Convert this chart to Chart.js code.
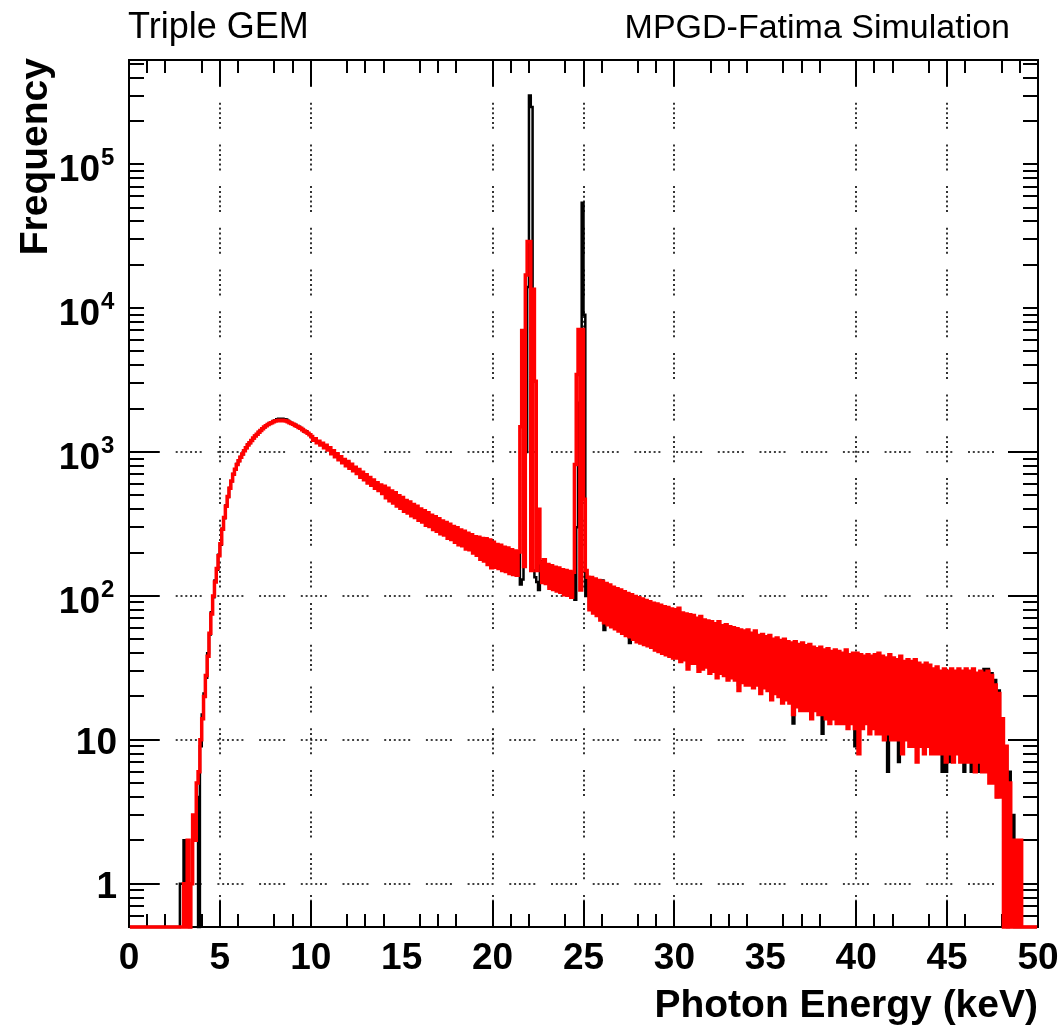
<!DOCTYPE html>
<html>
<head>
<meta charset="utf-8">
<script src="https://cdn.jsdelivr.net/npm/chart.js@4.4.1/dist/chart.umd.min.js"></script>
<style>
  html, body { margin: 0; padding: 0; background: #fff; }
  canvas { display: block; }
</style>
</head>
<body>
<canvas id="chart" width="1059" height="1027"></canvas>
<script>
// counts per 0.1 keV bin, one row per keV (0-1, 1-2, ...)
const binWidth = 0.1;

const redCounts = [
  0, 0, 0, 0, 0, 0, 0, 0, 0, 0,
  0, 0, 0, 0, 0, 0, 0, 0, 0, 0,
  0, 0, 0, 0, 0, 0, 0, 0, 0, 0,
  1, 0, 2, 0, 1, 3, 2, 5, 6, 10,
  14, 20, 28, 38, 55, 75, 100, 125, 155, 190,
  230, 290, 350, 420, 490, 560, 630, 700, 760, 820,
  870, 920, 970, 1020, 1070, 1120, 1160, 1200, 1250, 1290,
  1330, 1370, 1410, 1450, 1490, 1520, 1550, 1580, 1600, 1620,
  1640, 1650, 1660, 1650, 1660, 1650, 1640, 1620, 1600, 1580,
  1560, 1530, 1510, 1480, 1460, 1430, 1400, 1380, 1350, 1320,
  1280, 1205, 1236, 1160, 1188, 1118, 1152, 1070, 1112, 1032,
  1070, 972, 1020, 927, 974, 884, 928, 843, 886, 804,
  858, 772, 822, 742, 784, 708, 756, 668, 724, 642,
  695, 610, 664, 588, 640, 560, 612, 540, 590, 515,
  579, 481, 561, 458, 536, 443, 520, 421, 496, 407,
  482, 388, 461, 377, 450, 360, 431, 351, 419, 335,
  402, 326, 391, 310, 379, 304, 364, 289, 355, 281,
  344, 270, 332, 265, 324, 252, 315, 247, 304, 236,
  298, 227, 287, 223, 281, 212, 272, 209, 266, 199,
  258, 192, 256, 180, 251, 175, 250, 165, 245, 157,
  236, 158, 228, 155, 225, 150, 218, 148, 215, 143,
  209, 141, 205, 139, 202, 1500, 7000, 160, 17000, 29000,
  29000, 150, 13500, 3100, 150, 400, 170, 124, 178, 122,
  165, 113, 162, 111, 158, 108, 156, 106, 152, 102,
  150, 101, 148, 98, 146, 820, 3450, 7100, 110, 7100,
  470, 150, 135, 80, 134, 76, 131, 73, 128, 68,
  126, 65, 122, 63, 119, 61, 115, 59, 112, 57,
  110, 55, 107, 53, 104, 52, 102, 50, 99, 48,
  97, 47, 95, 46, 93, 45, 91, 44, 89, 42,
  88, 41, 86, 40, 84, 39, 83, 38, 81, 37,
  80, 37, 82, 35, 76, 36, 75, 31, 74, 34,
  73, 34, 70, 30, 72, 31, 68, 32, 67, 29,
  66, 30, 64, 27, 66, 29, 62, 28, 63, 26,
  61, 27, 60, 26, 59, 22, 58, 25, 57, 24,
  58, 24, 55, 23, 57, 24, 53, 21, 54, 23,
  52, 22, 53, 19, 50, 21, 51, 20, 49, 18,
  50, 19, 48, 18, 47, 15, 48, 17, 46, 16,
  47, 16, 45, 16, 46, 14, 44, 16, 43, 15,
  44, 15, 42, 14, 43, 13, 41, 14, 42, 13,
  41, 13, 40, 13, 42, 12, 39, 13, 40, 12,
  40, 8, 39, 12, 38, 13, 39, 11, 38, 12,
  39, 11, 40, 11, 38, 10, 37, 11, 39, 10,
  37, 10, 36, 10, 38, 8, 35, 10, 36, 9,
  35, 9, 36, 7, 34, 9, 33, 8, 34, 9,
  33, 8, 31, 8, 32, 8, 30, 8, 31, 7,
  30, 8, 31, 7, 30, 8, 31, 7, 30, 7,
  31, 7, 30, 7, 31, 6, 29, 7, 30, 6,
  29, 6, 30, 5, 28, 5, 24, 4, 21, 4,
  14, 0, 9, 0, 5, 0, 2, 0, 2, 0,
  2, 0, 0, 0, 0, 0, 0, 0, 0, 0
];

const blackCounts = [
  0, 0, 0, 0, 0, 0, 0, 0, 0, 0,
  0, 0, 0, 0, 0, 0, 0, 0, 0, 0,
  0, 0, 0, 0, 0, 0, 0, 0, 1, 1,
  2, 1, 1, 0, 1, 2, 2, 4, 0, 9,
  15, 21, 27, 40, 54, 77, 98, 128, 152, 193,
  227, 293, 347, 424, 487, 563, 627, 704, 757, 824,
  866, 925, 966, 1026, 1066, 1126, 1156, 1206, 1246, 1296,
  1326, 1376, 1406, 1456, 1486, 1526, 1546, 1590, 1610, 1645,
  1665, 1690, 1700, 1690, 1705, 1690, 1680, 1650, 1615, 1590,
  1550, 1545, 1500, 1495, 1450, 1445, 1390, 1395, 1340, 1330,
  1270, 1215, 1225, 1170, 1180, 1125, 1140, 1080, 1100, 1040,
  1060, 980, 1010, 935, 965, 890, 918, 850, 876, 810,
  848, 780, 812, 748, 776, 712, 746, 676, 714, 645,
  686, 615, 655, 592, 630, 565, 604, 544, 580, 520,
  554, 500, 536, 476, 512, 460, 496, 438, 474, 424,
  460, 404, 440, 392, 428, 375, 410, 365, 398, 350,
  382, 340, 372, 325, 360, 316, 346, 302, 338, 293,
  326, 282, 315, 276, 308, 264, 300, 258, 288, 247,
  282, 238, 272, 233, 266, 222, 258, 218, 250, 209,
  244, 201, 240, 190, 238, 183, 236, 173, 232, 165,
  232, 160, 226, 158, 221, 153, 215, 150, 211, 146,
  205, 144, 201, 142, 198, 120, 130, 1400, 1000, 14000,
  300000, 250000, 150, 135, 125, 110, 174, 126, 172, 124,
  161, 115, 158, 113, 155, 110, 152, 108, 149, 104,
  147, 103, 145, 100, 143, 94, 300, 2200, 2000, 54000,
  9000, 100, 132, 82, 131, 78, 128, 75, 125, 70,
  128, 58, 120, 65, 117, 63, 113, 61, 110, 59,
  108, 57, 105, 55, 102, 47, 100, 52, 97, 50,
  95, 49, 93, 48, 91, 47, 89, 46, 87, 44,
  86, 43, 84, 42, 82, 41, 81, 40, 79, 39,
  78, 39, 80, 37, 75, 38, 73, 33, 72, 36,
  71, 36, 69, 32, 70, 33, 67, 34, 66, 31,
  65, 32, 63, 29, 64, 31, 61, 30, 62, 28,
  60, 29, 59, 28, 58, 24, 57, 27, 56, 26,
  56, 26, 54, 25, 55, 26, 52, 23, 53, 25,
  51, 24, 52, 21, 49, 23, 50, 22, 48, 20,
  49, 21, 47, 20, 46, 13, 47, 19, 45, 18,
  46, 18, 44, 18, 45, 16, 43, 18, 42, 17,
  43, 11, 41, 16, 42, 15, 40, 16, 41, 15,
  40, 15, 39, 15, 41, 14, 38, 14, 39, 9,
  39, 10, 38, 14, 37, 15, 38, 13, 37, 14,
  38, 13, 39, 13, 37, 12, 36, 6, 38, 12,
  36, 12, 35, 7, 37, 10, 34, 12, 35, 11,
  34, 11, 35, 9, 33, 11, 32, 10, 33, 11,
  32, 10, 30, 10, 31, 10, 29, 6, 30, 6,
  29, 7, 30, 9, 29, 10, 30, 9, 29, 6,
  30, 9, 29, 6, 30, 8, 28, 6, 29, 8,
  31, 8, 31, 7, 29, 7, 26, 4, 22, 5,
  14, 1, 9, 0, 6, 1, 3, 0, 1, 0,
  1, 0, 0, 0, 0, 0, 0, 0, 0, 0
];

const xLabels = [0, 5, 10, 15, 20, 25, 30, 35, 40, 45, 50];
const xMajorTicks = [5, 10, 20, 25, 30, 40, 45];
const xMinorTicks = [1, 2, 4, 6, 8, 9, 12, 13, 14, 16, 17, 18, 21, 22, 24, 26, 28, 29,
  32, 33, 34, 36, 37, 38, 41, 42, 44, 46, 48, 49];
const xGrid = [5, 10, 20, 25, 30, 40, 45];
const yLabels = [1, 10, 100, 1000, 10000, 100000];
const yMajorTicks = [1, 10, 100, 1000];
const yGrid = [1, 10, 100, 1000];
const yMin = 0.5;
const yMax = 5.3e5;

const energies = redCounts.map((_, i) => +((i + 0.5) * binWidth).toFixed(2));
// empty bins sit on the bottom of the frame, like ROOT draws them
const onFrame = (arr) => arr.map((v) => (v > 0 ? v : yMin));

const FONT = '"Liberation Sans", Arial, Helvetica, sans-serif';
const gridDash = [2, 2.8, 2, 2.8, 2, 2.8, 2, 2.8, 2, 2.8, 2, 15.7];

function line(ctx, x1, y1, x2, y2) {
  ctx.beginPath();
  ctx.moveTo(x1, y1);
  ctx.lineTo(x2, y2);
  ctx.stroke();
}

const rootFrame = {
  id: 'rootFrame',
  beforeDatasetsDraw(chart) {
    const { ctx, chartArea: a, scales: { x, y } } = chart;
    ctx.save();
    ctx.strokeStyle = '#000';

    // dotted grid
    ctx.lineWidth = 1.6;
    ctx.setLineDash(gridDash);
    yGrid.forEach((v) => {
      const py = Math.round(y.getPixelForValue(v));
      line(ctx, a.left + 5, py, a.right, py);
    });
    xGrid.forEach((v) => {
      const px = Math.round(x.getPixelForValue(v));
      line(ctx, px, a.bottom - 6, px, a.top);
    });
    ctx.setLineDash([]);

    // ticks on all four sides, pointing in
    ctx.lineWidth = 2;
    xMajorTicks.forEach((v) => {
      const px = Math.round(x.getPixelForValue(v));
      line(ctx, px, a.bottom, px, a.bottom - 26);
      line(ctx, px, a.top, px, a.top + 26);
    });
    xMinorTicks.forEach((v) => {
      const px = Math.round(x.getPixelForValue(v));
      line(ctx, px, a.bottom, px, a.bottom - 13);
      line(ctx, px, a.top, px, a.top + 13);
    });
    for (let e = -1; e <= 5; e++) {
      for (let m = 1; m <= 9; m++) {
        const v = m * Math.pow(10, e);
        if (v <= yMin || v >= yMax) continue;
        const len = yMajorTicks.includes(v) ? 30 : 15;
        const py = Math.round(y.getPixelForValue(v));
        line(ctx, a.left, py, a.left + len, py);
        line(ctx, a.right, py, a.right - len, py);
      }
    }

    ctx.strokeRect(a.left, a.top, a.right - a.left, a.bottom - a.top);
    ctx.restore();
  },
  afterDraw(chart) {
    const { ctx, chartArea: a, scales: { x, y } } = chart;
    ctx.save();
    ctx.fillStyle = '#000';

    ctx.font = `bold 37px ${FONT}`;
    ctx.textAlign = 'center';
    ctx.textBaseline = 'alphabetic';
    xLabels.forEach((v) => ctx.fillText(String(v), x.getPixelForValue(v), 969));

    yLabels.forEach((v) => {
      const py = y.getPixelForValue(v);
      const exp = Math.round(Math.log10(v));
      if (exp <= 1) {
        ctx.font = `bold 37px ${FONT}`;
        ctx.textAlign = 'right';
        ctx.fillText(String(v), 117, py + 14);
      } else {
        ctx.font = `bold 37px ${FONT}`;
        ctx.textAlign = 'right';
        ctx.fillText('10', 100, py + 17);
        ctx.font = `bold 24px ${FONT}`;
        ctx.textAlign = 'left';
        ctx.fillText(String(exp), 101, py + 1);
      }
    });

    ctx.font = `bold 39px ${FONT}`;
    ctx.textAlign = 'right';
    ctx.fillText('Photon Energy (keV)', a.right, 1017);

    ctx.save();
    ctx.translate(47, a.top - 2);
    ctx.rotate(-Math.PI / 2);
    ctx.textAlign = 'right';
    ctx.fillText('Frequency', 0, 0);
    ctx.restore();

    ctx.font = `36px ${FONT}`;
    ctx.textAlign = 'left';
    ctx.fillText('Triple GEM', 128, 38);
    ctx.font = `34px ${FONT}`;
    ctx.textAlign = 'right';
    ctx.fillText('MPGD-Fatima Simulation', 1010, 38);
    ctx.restore();
  }
};

new Chart(document.getElementById('chart'), {
  type: 'line',
  data: {
    labels: energies,
    datasets: [
      {
        label: 'red',
        data: onFrame(redCounts),
        borderColor: '#ff0000',
        borderWidth: 3.5,
        stepped: 'middle',
        pointRadius: 0,
        fill: false,
        clip: 3,
        order: 0
      },
      {
        label: 'black',
        data: onFrame(blackCounts),
        borderColor: '#000000',
        borderWidth: 2.5,
        stepped: 'middle',
        pointRadius: 0,
        fill: false,
        clip: 3,
        order: 1
      }
    ]
  },
  options: {
    responsive: false,
    animation: false,
    events: [],
    layout: { padding: { left: 129, top: 60, right: 21, bottom: 100 } },
    plugins: {
      legend: { display: false },
      tooltip: { enabled: false }
    },
    scales: {
      x: { type: 'linear', display: false, min: 0, max: 50 },
      y: { type: 'logarithmic', display: false, min: yMin, max: yMax }
    }
  },
  plugins: [rootFrame]
});
</script>
</body>
</html>
